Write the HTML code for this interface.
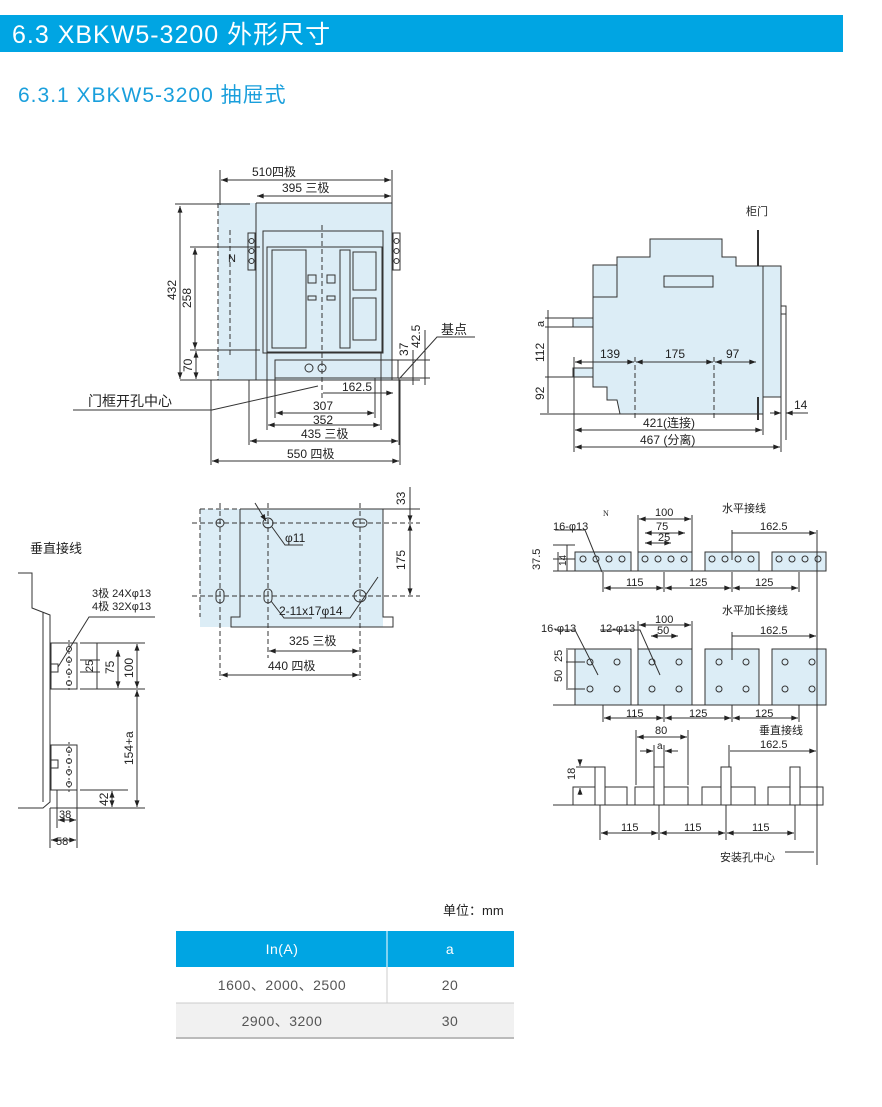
<!DOCTYPE html>
<html><head><meta charset="utf-8"><style>
html,body{margin:0;padding:0;background:#fff;width:882px;height:1107px;overflow:hidden}
svg{display:block}
text{font-family:"Liberation Sans","Noto Sans CJK SC",sans-serif;fill:#222}
</style></head><body>
<svg width="882" height="1107" viewBox="0 0 882 1107" xmlns="http://www.w3.org/2000/svg">
<defs>
<marker id="a" viewBox="0 0 8 6" refX="8" refY="3" markerWidth="7" markerHeight="5" orient="auto-start-reverse"><path d="M0,0L8,3L0,6z" fill="#222"/></marker>
</defs>
<rect x="0" y="15" width="843" height="37" fill="#00a5e3"/>
<text x="12" y="43" font-size="25" letter-spacing="1" style="fill:#fff">6.3 XBKW5-3200 外形尺寸</text>
<text x="18" y="102" font-size="21" letter-spacing="1" style="fill:#1a9fdc">6.3.1 XBKW5-3200 抽屉式</text>

<g stroke="#333" stroke-width="1" fill="none">
<!-- FRONT VIEW -->
<rect x="218" y="203" width="174" height="177" fill="#dcedf6" stroke="none"/>
<line x1="218" y1="203" x2="218" y2="380" stroke-dasharray="5,3"/>
<line x1="230" y1="230" x2="230" y2="355" stroke-dasharray="5,3"/>
<line x1="256" y1="203" x2="392" y2="203"/>
<line x1="256" y1="203" x2="256" y2="380"/>
<line x1="392" y1="203" x2="392" y2="380"/>
<rect x="263" y="231" width="120" height="122"/>
<rect x="267" y="247" width="115" height="105"/>
<rect x="272" y="250" width="34" height="98"/>
<rect x="308" y="275" width="8" height="8"/><rect x="327" y="275" width="8" height="8"/>
<rect x="308" y="296" width="8" height="4"/><rect x="327" y="296" width="8" height="4"/>
<rect x="340" y="250" width="10" height="98"/>
<rect x="353" y="252" width="23" height="38"/><rect x="353" y="298" width="23" height="42"/>
<rect x="275" y="360" width="123" height="18"/>
<circle cx="309" cy="368" r="4"/><circle cx="322" cy="368" r="4"/>
<line x1="322" y1="225" x2="322" y2="400" stroke-dasharray="5,3"/>
<rect x="248" y="233" width="7" height="37"/><rect x="393" y="233" width="7" height="37"/>
<circle cx="251.5" cy="241" r="2.5"/><circle cx="251.5" cy="251" r="2.5"/><circle cx="251.5" cy="261" r="2.5"/>
<circle cx="396.5" cy="241" r="2.5"/><circle cx="396.5" cy="251" r="2.5"/><circle cx="396.5" cy="261" r="2.5"/>
<line x1="180" y1="380" x2="420" y2="380"/>
<line x1="220" y1="170" x2="220" y2="205"/><line x1="392" y1="170" x2="392" y2="205"/>
<line x1="221" y1="180" x2="391" y2="180" marker-start="url(#a)" marker-end="url(#a)"/>
<line x1="257" y1="196" x2="391" y2="196" marker-start="url(#a)" marker-end="url(#a)"/>
<line x1="175" y1="204" x2="250" y2="204"/>
<line x1="180" y1="206" x2="180" y2="379" marker-start="url(#a)" marker-end="url(#a)"/>
<line x1="190" y1="247" x2="260" y2="247"/><line x1="190" y1="350" x2="260" y2="350"/>
<line x1="195" y1="248" x2="195" y2="349" marker-start="url(#a)" marker-end="url(#a)"/>
<line x1="196" y1="351" x2="196" y2="379" marker-start="url(#a)" marker-end="url(#a)"/>
<line x1="211" y1="380" x2="211" y2="465"/><line x1="249" y1="380" x2="249" y2="445"/>
<line x1="267" y1="352" x2="267" y2="430"/><line x1="275" y1="378" x2="275" y2="418"/>
<line x1="375" y1="378" x2="375" y2="418"/><line x1="381" y1="352" x2="381" y2="430"/>
<line x1="399" y1="378" x2="399" y2="445"/><line x1="400" y1="380" x2="400" y2="465"/>
<line x1="323" y1="393" x2="393" y2="393" marker-end="url(#a)"/>
<line x1="276" y1="413" x2="374" y2="413" marker-start="url(#a)" marker-end="url(#a)"/>
<line x1="268" y1="425" x2="380" y2="425" marker-start="url(#a)" marker-end="url(#a)"/>
<line x1="250" y1="441" x2="398" y2="441" marker-start="url(#a)" marker-end="url(#a)"/>
<line x1="212" y1="461" x2="399" y2="461" marker-start="url(#a)" marker-end="url(#a)"/>
<line x1="398" y1="360" x2="430" y2="360"/><line x1="398" y1="378" x2="430" y2="378"/>
<line x1="413" y1="350" x2="413" y2="385"/><line x1="425" y1="330" x2="425" y2="385"/>
<polyline points="400,378 437,337 475,337"/>
<polyline points="73,410 212,410 318,386"/>
<!-- SIDE VIEW -->
<polygon points="593,265 617,265 617,257 650,257 650,239 722,239 722,257 736,257 736,266 763,266 763,414 620,414 617,400 607,400 607,387 593,387" fill="#dcedf6"/>
<polyline points="593,265 593,297 617,297 617,265"/>
<rect x="763" y="266" width="18" height="131" fill="#dcedf6"/>
<rect x="664" y="276" width="49" height="11"/>
<rect x="781" y="306" width="5" height="8"/>
<line x1="786" y1="314" x2="786" y2="440"/>
<line x1="758" y1="230" x2="758" y2="266" stroke-width="2"/>
<line x1="758" y1="397" x2="758" y2="420" stroke-width="2"/>
<rect x="573" y="318" width="20" height="9" fill="#dcedf6"/>
<rect x="573" y="368" width="20" height="9" fill="#dcedf6"/>
<line x1="540" y1="414" x2="763" y2="414"/>
<line x1="545" y1="318" x2="573" y2="318"/><line x1="545" y1="327" x2="573" y2="327"/><line x1="545" y1="377" x2="573" y2="377"/>
<line x1="548" y1="310" x2="548" y2="413" />
<line x1="574" y1="357" x2="574" y2="452"/><line x1="635" y1="357" x2="635" y2="418" stroke-dasharray="5,3"/>
<line x1="714" y1="357" x2="714" y2="418" stroke-dasharray="5,3"/>
<line x1="575" y1="362" x2="634" y2="362" marker-start="url(#a)" marker-end="url(#a)"/>
<line x1="636" y1="362" x2="713" y2="362" marker-start="url(#a)" marker-end="url(#a)"/>
<line x1="715" y1="362" x2="756" y2="362" marker-start="url(#a)" marker-end="url(#a)"/>
<line x1="763" y1="414" x2="763" y2="435"/><line x1="781" y1="397" x2="781" y2="452"/>
<line x1="575" y1="430" x2="762" y2="430" marker-start="url(#a)" marker-end="url(#a)"/>
<line x1="575" y1="447" x2="780" y2="447" marker-start="url(#a)" marker-end="url(#a)"/>
<line x1="770" y1="413" x2="781" y2="413" marker-end="url(#a)"/><line x1="808" y1="413" x2="786" y2="413" marker-end="url(#a)"/>
<!-- MOUNTING PLATE -->
<rect x="200" y="509" width="183" height="118" fill="#dcedf6" stroke="none"/>
<polyline points="240,509 383,509 383,617 393,617 393,627 231,627 231,617 240,617 240,509"/>
<polyline points="200,509 240,509" stroke-dasharray="5,3"/>
<line x1="200" y1="509" x2="200" y2="617" stroke-dasharray="5,3"/>
<line x1="192" y1="523" x2="420" y2="523" stroke-dasharray="5,3"/>
<line x1="192" y1="596" x2="420" y2="596" stroke-dasharray="5,3"/>
<line x1="220" y1="503" x2="220" y2="680" stroke-dasharray="5,3"/>
<line x1="268" y1="503" x2="268" y2="658" stroke-dasharray="5,3"/>
<line x1="360" y1="503" x2="360" y2="680" stroke-dasharray="5,3"/>
<circle cx="220" cy="523" r="4"/><circle cx="268" cy="523" r="5"/>
<rect x="353" y="519" width="14" height="8" rx="4"/>
<rect x="216" y="589" width="8" height="14" rx="4"/><rect x="264" y="589" width="8" height="14" rx="4"/>
<circle cx="360" cy="596" r="6"/>
<line x1="255" y1="503" x2="266" y2="521" marker-end="url(#a)"/>
<polyline points="272,527 285,545 303,545"/>
<polyline points="271,601 284,618 312,618"/>
<polyline points="378,577 350,618 320,618"/>
<line x1="383" y1="509" x2="420" y2="509"/>
<line x1="410" y1="487" x2="410" y2="522" marker-end="url(#a)"/>
<line x1="410" y1="524" x2="410" y2="595" marker-start="url(#a)" marker-end="url(#a)"/>
<line x1="269" y1="651" x2="359" y2="651" marker-start="url(#a)" marker-end="url(#a)"/>
<line x1="221" y1="675" x2="359" y2="675" marker-start="url(#a)" marker-end="url(#a)"/>
<!-- VERTICAL WIRING LEFT -->
<polyline points="18,573 32,573 32,608 50,615 50,802 43,808 18,808"/>
<line x1="43" y1="612" x2="43" y2="802"/>
<rect x="51" y="643" width="26" height="46"/><rect x="51" y="745" width="26" height="45"/>
<rect x="51" y="664" width="7" height="8"/><rect x="51" y="760" width="7" height="8"/>
<g stroke-dasharray="2,2"><line x1="69" y1="640" x2="69" y2="692"/><line x1="69" y1="742" x2="69" y2="793"/></g>
<circle cx="69" cy="649" r="2.5"/><circle cx="69" cy="660" r="2.5"/><circle cx="69" cy="672" r="2.5"/><circle cx="69" cy="683" r="2.5"/>
<circle cx="69" cy="750" r="2.5"/><circle cx="69" cy="761" r="2.5"/><circle cx="69" cy="772" r="2.5"/><circle cx="69" cy="784" r="2.5"/>
<polyline points="58,667 89,617 155,617"/>
<line x1="80" y1="643" x2="145" y2="643"/><line x1="80" y1="689" x2="145" y2="689"/>
<line x1="80" y1="660" x2="100" y2="660"/><line x1="80" y1="672" x2="100" y2="672"/>
<line x1="97" y1="643" x2="97" y2="689"/>
<line x1="118" y1="650" x2="118" y2="688" marker-start="url(#a)" marker-end="url(#a)"/>
<line x1="137" y1="644" x2="137" y2="688" marker-start="url(#a)" marker-end="url(#a)"/>
<line x1="137" y1="690" x2="137" y2="807" marker-start="url(#a)" marker-end="url(#a)"/>
<line x1="80" y1="790" x2="128" y2="790"/><line x1="50" y1="808" x2="145" y2="808"/>
<line x1="112" y1="791" x2="112" y2="807" marker-start="url(#a)" marker-end="url(#a)"/>
<line x1="50" y1="808" x2="50" y2="848"/><line x1="57" y1="790" x2="57" y2="828"/><line x1="77" y1="790" x2="77" y2="848"/>
<line x1="58" y1="820" x2="76" y2="820" marker-start="url(#a)" marker-end="url(#a)"/>
<line x1="51" y1="840" x2="76" y2="840" marker-start="url(#a)" marker-end="url(#a)"/>
<!-- BUSBARS -->
<g fill="#dcedf6">
<rect x="575" y="552" width="56" height="19"/><rect x="638" y="552" width="54" height="19"/>
<rect x="705" y="552" width="54" height="19"/><rect x="772" y="552" width="54" height="19"/>
<rect x="575" y="649" width="56" height="56"/><rect x="638" y="649" width="54" height="56"/>
<rect x="705" y="649" width="54" height="56"/><rect x="772" y="649" width="54" height="56"/>
</g>
<line x1="553" y1="571" x2="826" y2="571"/><line x1="553" y1="705" x2="826" y2="705"/>
<g>
<circle cx="583" cy="559" r="3"/><circle cx="596" cy="559" r="3"/><circle cx="609" cy="559" r="3"/><circle cx="622" cy="559" r="3"/>
<circle cx="645" cy="559" r="3"/><circle cx="658" cy="559" r="3"/><circle cx="671" cy="559" r="3"/><circle cx="684" cy="559" r="3"/>
<circle cx="712" cy="559" r="3"/><circle cx="725" cy="559" r="3"/><circle cx="738" cy="559" r="3"/><circle cx="751" cy="559" r="3"/>
<circle cx="779" cy="559" r="3"/><circle cx="792" cy="559" r="3"/><circle cx="805" cy="559" r="3"/><circle cx="818" cy="559" r="3"/>
<circle cx="590" cy="662" r="3"/><circle cx="617" cy="662" r="3"/><circle cx="590" cy="689" r="3"/><circle cx="617" cy="689" r="3"/>
<circle cx="652" cy="662" r="3"/><circle cx="679" cy="662" r="3"/><circle cx="652" cy="689" r="3"/><circle cx="679" cy="689" r="3"/>
<circle cx="719" cy="662" r="3"/><circle cx="746" cy="662" r="3"/><circle cx="719" cy="689" r="3"/><circle cx="746" cy="689" r="3"/>
<circle cx="785" cy="662" r="3"/><circle cx="812" cy="662" r="3"/><circle cx="785" cy="689" r="3"/><circle cx="812" cy="689" r="3"/>
</g>
<line x1="553" y1="545" x2="575" y2="545"/><line x1="553" y1="559" x2="575" y2="559"/>
<line x1="567" y1="545" x2="567" y2="571"/><line x1="558" y1="552" x2="558" y2="571"/>
<line x1="639" y1="519" x2="691" y2="519" marker-start="url(#a)" marker-end="url(#a)"/>
<line x1="638" y1="515" x2="638" y2="552"/><line x1="692" y1="515" x2="692" y2="552"/>
<line x1="645" y1="533" x2="685" y2="533" marker-start="url(#a)" marker-end="url(#a)"/>
<line x1="645" y1="543" x2="671" y2="543" marker-start="url(#a)" marker-end="url(#a)"/>
<line x1="732" y1="533" x2="816" y2="533" marker-end="url(#a)"/><line x1="732" y1="530" x2="732" y2="560"/>
<line x1="817" y1="530" x2="817" y2="865"/>
<polyline points="555,530 585,530 602,572"/>
<line x1="603" y1="572" x2="603" y2="592"/><line x1="664" y1="572" x2="664" y2="592"/><line x1="732" y1="572" x2="732" y2="592"/><line x1="799" y1="572" x2="799" y2="592"/>
<line x1="604" y1="588" x2="663" y2="588" marker-start="url(#a)" marker-end="url(#a)"/>
<line x1="665" y1="588" x2="731" y2="588" marker-start="url(#a)" marker-end="url(#a)"/>
<line x1="733" y1="588" x2="798" y2="588" marker-start="url(#a)" marker-end="url(#a)"/>
<line x1="639" y1="625" x2="691" y2="625" marker-start="url(#a)" marker-end="url(#a)"/>
<line x1="638" y1="621" x2="638" y2="649"/><line x1="692" y1="621" x2="692" y2="649"/>
<line x1="651" y1="636" x2="678" y2="636" marker-start="url(#a)" marker-end="url(#a)"/>
<line x1="732" y1="636" x2="816" y2="636" marker-end="url(#a)"/><line x1="732" y1="632" x2="732" y2="660"/>
<line x1="566" y1="649" x2="575" y2="649"/><line x1="566" y1="662" x2="585" y2="662"/><line x1="566" y1="689" x2="585" y2="689"/>
<line x1="567" y1="650" x2="567" y2="688"/>
<polyline points="555,630 575,630 598,675"/>
<polyline points="600,630 640,630 660,675"/>
<line x1="603" y1="705" x2="603" y2="722"/><line x1="664" y1="705" x2="664" y2="722"/><line x1="732" y1="705" x2="732" y2="722"/><line x1="799" y1="705" x2="799" y2="722"/>
<line x1="604" y1="718" x2="663" y2="718" marker-start="url(#a)" marker-end="url(#a)"/>
<line x1="665" y1="718" x2="731" y2="718" marker-start="url(#a)" marker-end="url(#a)"/>
<line x1="733" y1="718" x2="798" y2="718" marker-start="url(#a)" marker-end="url(#a)"/>
<line x1="553" y1="805" x2="823" y2="805"/>
<rect x="573" y="787" width="54" height="18"/><rect x="635" y="787" width="53" height="18"/>
<rect x="702" y="787" width="53" height="18"/><rect x="768" y="787" width="55" height="18"/>
<g fill="#fff"><rect x="595" y="767" width="10" height="38"/><rect x="654" y="767" width="10" height="38"/>
<rect x="721" y="767" width="10" height="38"/><rect x="790" y="767" width="10" height="38"/></g>
<line x1="636" y1="730" x2="636" y2="785"/><line x1="688" y1="730" x2="688" y2="785"/>
<line x1="637" y1="737" x2="687" y2="737" marker-start="url(#a)" marker-end="url(#a)"/>
<line x1="654" y1="745" x2="654" y2="767"/><line x1="664" y1="745" x2="664" y2="767"/>
<line x1="640" y1="751" x2="653" y2="751" marker-end="url(#a)"/><line x1="678" y1="751" x2="665" y2="751" marker-end="url(#a)"/>
<line x1="729" y1="745" x2="729" y2="767"/><line x1="730" y1="751" x2="816" y2="751" marker-end="url(#a)"/>
<line x1="576" y1="767" x2="595" y2="767"/><line x1="576" y1="787" x2="573" y2="787"/>
<line x1="580" y1="760" x2="580" y2="766" marker-end="url(#a)"/><line x1="580" y1="795" x2="580" y2="788" marker-end="url(#a)"/>
<line x1="600" y1="805" x2="600" y2="840"/><line x1="659" y1="805" x2="659" y2="840"/><line x1="726" y1="805" x2="726" y2="840"/><line x1="795" y1="805" x2="795" y2="840"/>
<line x1="601" y1="833" x2="658" y2="833" marker-start="url(#a)" marker-end="url(#a)"/>
<line x1="660" y1="833" x2="725" y2="833" marker-start="url(#a)" marker-end="url(#a)"/>
<line x1="727" y1="833" x2="794" y2="833" marker-start="url(#a)" marker-end="url(#a)"/>
<line x1="785" y1="852" x2="814" y2="852"/>
</g>

<g font-size="12">
<text x="252" y="176">510四极</text><text x="282" y="192">395 三极</text>
<text x="176" y="300" transform="rotate(-90 176 300)">432</text>
<text x="191" y="308" transform="rotate(-90 191 308)">258</text>
<text x="192" y="372" transform="rotate(-90 192 372)">70</text>
<text x="408" y="356" transform="rotate(-90 408 356)">37</text>
<text x="420" y="348" transform="rotate(-90 420 348)">42.5</text>
<text x="441" y="334" font-size="13">基点</text>
<text x="228" y="262" font-size="11">N</text>
<text x="342" y="391">162.5</text><text x="313" y="410">307</text><text x="313" y="424">352</text>
<text x="301" y="438">435 三极</text><text x="287" y="458">550 四极</text>
<text x="88" y="406" font-size="14">门框开孔中心</text>
<text x="746" y="215" font-size="11">柜门</text>
<text x="600" y="358">139</text><text x="665" y="358">175</text><text x="726" y="358">97</text>
<text x="544" y="327" transform="rotate(-90 544 327)" font-size="11">a</text>
<text x="544" y="362" transform="rotate(-90 544 362)">112</text>
<text x="544" y="400" transform="rotate(-90 544 400)">92</text>
<text x="643" y="427">421(连接)</text><text x="640" y="444">467 (分离)</text>
<text x="794" y="409">14</text>
<text x="405" y="505" transform="rotate(-90 405 505)">33</text>
<text x="405" y="570" transform="rotate(-90 405 570)">175</text>
<text x="285" y="542">φ11</text><text x="279" y="615">2-11x17φ14</text>
<text x="289" y="645">325 三极</text><text x="268" y="670">440 四极</text>
<text x="30" y="553" font-size="13">垂直接线</text>
<text x="92" y="597" font-size="11">3极  24Xφ13</text><text x="92" y="610" font-size="11">4极  32Xφ13</text>
<text x="93" y="672" transform="rotate(-90 93 672)" font-size="11">25</text>
<text x="114" y="674" transform="rotate(-90 114 674)">75</text>
<text x="133" y="678" transform="rotate(-90 133 678)">100</text>
<text x="133" y="765" transform="rotate(-90 133 765)">154+a</text>
<text x="108" y="806" transform="rotate(-90 108 806)">42</text>
<text x="59" y="818" font-size="11">38</text><text x="56" y="845" font-size="11">58</text>
<text x="603" y="516" font-size="8" style="font-family:'Liberation Serif',serif">N</text>
<text x="722" y="512" font-size="11">水平接线</text>
<text x="553" y="530" font-size="11">16-φ13</text>
<text x="655" y="516" font-size="11">100</text><text x="656" y="530" font-size="11">75</text><text x="658" y="541" font-size="11">25</text>
<text x="760" y="530" font-size="11">162.5</text>
<text x="540" y="570" transform="rotate(-90 540 570)" font-size="11">37.5</text>
<text x="566" y="566" transform="rotate(-90 566 566)" font-size="10">14</text>
<text x="626" y="586" font-size="11">115</text><text x="689" y="586" font-size="11">125</text><text x="755" y="586" font-size="11">125</text>
<text x="722" y="614" font-size="11">水平加长接线</text>
<text x="541" y="632" font-size="11">16-φ13</text><text x="600" y="632" font-size="11">12-φ13</text>
<text x="655" y="623" font-size="11">100</text><text x="657" y="634" font-size="11">50</text>
<text x="760" y="634" font-size="11">162.5</text>
<text x="562" y="662" transform="rotate(-90 562 662)" font-size="11">25</text>
<text x="562" y="682" transform="rotate(-90 562 682)" font-size="11">50</text>
<text x="626" y="717" font-size="11">115</text><text x="689" y="717" font-size="11">125</text><text x="755" y="717" font-size="11">125</text>
<text x="655" y="734" font-size="11">80</text><text x="657" y="749" font-size="10">a</text>
<text x="759" y="734" font-size="11">垂直接线</text><text x="760" y="748" font-size="11">162.5</text>
<text x="575" y="780" transform="rotate(-90 575 780)" font-size="11">18</text>
<text x="621" y="831" font-size="11">115</text><text x="684" y="831" font-size="11">115</text><text x="752" y="831" font-size="11">115</text>
<text x="720" y="861" font-size="11">安装孔中心</text>
</g>

<text x="443" y="915" font-size="13">单位：mm</text>
<rect x="176" y="931" width="338" height="36" fill="#00a5e3"/>
<line x1="387" y1="931" x2="387" y2="1038" stroke="#ccc"/>
<rect x="176" y="1003" width="338" height="35" fill="#f1f1f1"/>
<line x1="387" y1="931" x2="387" y2="967" stroke="#fff"/>
<line x1="176" y1="1003" x2="514" y2="1003" stroke="#ccc"/>
<line x1="176" y1="1038" x2="514" y2="1038" stroke="#bbb" stroke-width="2"/>
<g font-size="14" text-anchor="middle" letter-spacing="0.5">
<text x="282" y="954" style="fill:#fff">In(A)</text><text x="450" y="954" style="fill:#fff">a</text>
<text x="282" y="990" style="fill:#555">1600、2000、2500</text><text x="450" y="990" style="fill:#555">20</text>
<text x="282" y="1026" style="fill:#555">2900、3200</text><text x="450" y="1026" style="fill:#555">30</text>
</g>
</svg>
</body></html>
